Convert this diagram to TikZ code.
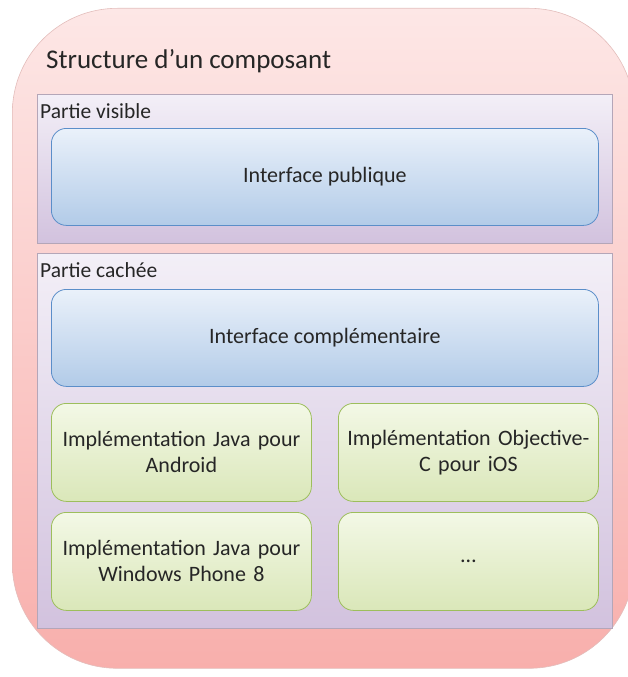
\documentclass[tikz,border=0pt]{standalone}
\usepackage{fontspec}
\setmainfont{Carlito}
\usepackage{tikz}
\usetikzlibrary{positioning,calc}
\definecolor{compInk}{HTML}{262626}
\definecolor{compPinkTop}{HTML}{FDE7E6}
\definecolor{compPinkBot}{HTML}{F8AFAC}
\definecolor{compPinkLine}{HTML}{E3BDBB}
\definecolor{compLavTop}{HTML}{F3EFF7}
\definecolor{compLavBot}{HTML}{D2C2DE}
\definecolor{compLavLine}{HTML}{B4A6B8}
\definecolor{compBlueTop}{HTML}{EAF1FA}
\definecolor{compBlueBot}{HTML}{B2CBE8}
\definecolor{compBlueLine}{HTML}{5B8EC9}
\definecolor{compGreenTop}{HTML}{F3F8E6}
\definecolor{compGreenBot}{HTML}{DAE7B9}
\definecolor{compGreenLine}{HTML}{9DBE5C}
\tikzset{
  composant/.style={draw=compPinkLine,line width=0.6pt,top color=compPinkTop,
        bottom color=compPinkBot,rounded corners=105pt,anchor=north west},
  partie/.style={draw=compLavLine,line width=0.5pt,top color=compLavTop,
        bottom color=compLavBot,anchor=north west,minimum width=575pt},
  iface/.style={draw=compBlueLine,line width=0.8pt,top color=compBlueTop,
        bottom color=compBlueBot,rounded corners=15pt,anchor=north west,
        minimum width=547pt,minimum height=97pt,text=compInk,font=\fontsize{22}{26}\selectfont},
  impl/.style={draw=compGreenLine,line width=0.8pt,top color=compGreenTop,
        bottom color=compGreenBot,rounded corners=15pt,anchor=north west,
        minimum width=260pt,minimum height=98pt,text width=250pt,align=center,
        text=compInk,font=\fontsize{22}{26}\selectfont},
  partlabel/.style={anchor=west,inner sep=0pt,text=compInk,font=\fontsize{21.5}{24}\selectfont}
}

\begin{document}
\begin{tikzpicture}[x=1pt,y=-1pt]
  \useasboundingbox (0,0) rectangle (628,677);
  \node[composant,minimum width=622pt,minimum height=660pt] (comp) at (12,8) {};
  \node[anchor=base west,inner sep=0pt,text=compInk,font=\fontsize{27}{30}\selectfont]
    (titre) at (46,68) {Structure d’un composant};

  % partie visible
  \node[partie,minimum height=149pt] (visible) at (37,94) {};
  \node[partlabel] (lblvisible) at (40,111) {Partie visible};
  \node[iface] (publique) at (51,128) {Interface publique};

  % partie cachee
  \node[partie,minimum height=375pt] (cachee) at (37,253) {};
  \node[partlabel] (lblcachee) at (40,270) {Partie cachée};
  \node[iface] (complementaire) at (51,289) {Interface complémentaire};
  \node[impl] (android) at (51,403) {Implémentation Java pour\\Android};
  \node[impl] (ios) at (338,403) {Implémentation Objective-\\C pour iOS};
  \node[impl] (wp) at (51,512) {Implémentation Java pour\\Windows Phone 8};
  \node[impl] (autres) at (338,512) {…};
\end{tikzpicture}
\end{document}
